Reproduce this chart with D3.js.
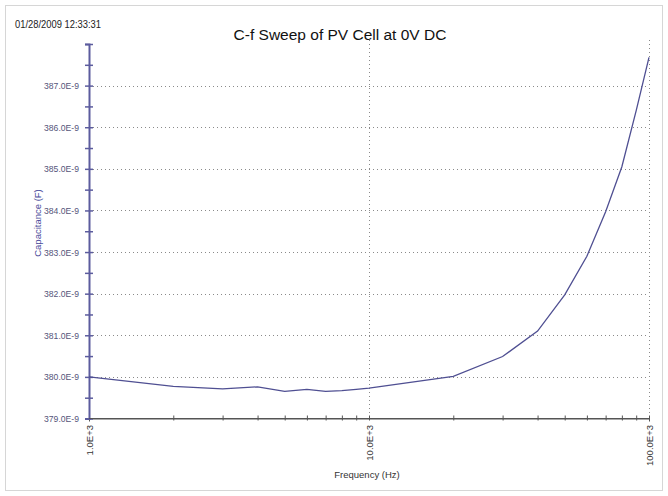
<!DOCTYPE html>
<html>
<head>
<meta charset="utf-8">
<script src="https://cdn.jsdelivr.net/npm/d3@7"></script>
<style>
  body { margin: 0; background: #fff; }
  svg { display: block; font-family: "Liberation Sans", Arial, sans-serif; }
</style>
</head>
<body>
<div id="chart"></div>
<script>
// values (Hz, farad)
const frequencies = [1e3, 2e3, 3e3, 4e3, 5e3, 6e3, 7e3, 8e3, 9e3, 10e3,
  20e3, 30e3, 40e3, 50e3, 60e3, 70e3, 80e3, 90e3, 100e3];
const capacitance = [380.00, 379.77, 379.71, 379.76, 379.65, 379.70, 379.65, 379.67, 379.70, 379.73,
  380.01, 380.49, 381.10, 381.97, 382.90, 383.97, 385.05, 386.40, 387.68].map(v => v * 1e-9);
const yMajorTicks = [379, 380, 381, 382, 383, 384, 385, 386, 387, 388].map(v => v * 1e-9);
const yMinorTicks = [379.5, 380.5, 381.5, 382.5, 383.5, 384.5, 385.5, 386.5, 387.5].map(v => v * 1e-9);
const xLabelTicks = [1e3, 10e3, 100e3];
const xMinorTicks = [2e3, 3e3, 4e3, 5e3, 6e3, 7e3, 8e3, 9e3, 20e3, 30e3, 40e3, 50e3, 60e3, 70e3, 80e3, 90e3];
const title = "C-f Sweep of PV Cell at 0V DC";
const stamp = "01/28/2009 12:33:31";

const width = 668;
const height = 496;
// plot box (window.top is taken, so prefix them)
const plotLeft = 89, plotRight = 649, plotTop = 44, plotBottom = 418.5;

const svg = d3.select("#chart").append("svg").attr("width", width).attr("height", height);

// light frame round the whole panel
svg.append("rect")
  .attr("x", 5.5).attr("y", 5.5).attr("width", 657).attr("height", 485)
  .attr("fill", "none").attr("stroke", "#d6d6d6");

const x = d3.scaleLog().domain([1e3, 100e3]).range([plotLeft, plotRight]);
const y = d3.scaleLinear().domain([379e-9, 388e-9]).range([plotBottom, plotTop]);

// grid
svg.append("g").selectAll("line")
  .data(yMajorTicks.slice(1, -1))
  .join("line")
  .attr("x1", plotLeft).attr("x2", plotRight)
  .attr("y1", d => Math.round(y(d)) + 0.5).attr("y2", d => Math.round(y(d)) + 0.5)
  .attr("stroke", "#8a8a8a").attr("stroke-dasharray", "1,3");
svg.append("g").selectAll("line")
  .data(xLabelTicks.slice(1))
  .join("line")
  .attr("x1", d => Math.round(x(d)) + 0.5).attr("x2", d => Math.round(x(d)) + 0.5)
  .attr("y1", 40).attr("y2", plotBottom)
  .attr("stroke", "#8a8a8a").attr("stroke-dasharray", "1,3");

// x axis
const fmtX = d => (d / 1e3).toFixed(1) + "E+3";
const xAxis = svg.append("g").attr("transform", `translate(0,${plotBottom})`)
  .call(d3.axisBottom(x).tickValues(xLabelTicks.concat(xMinorTicks))
    .tickFormat(d => xLabelTicks.includes(d) ? fmtX(d) : "")
    .tickSize(3).tickPadding(4));
xAxis.select(".domain").attr("stroke", "#555");
xAxis.selectAll(".tick line").attr("y1", -3).attr("y2", 2).attr("stroke", "#555");
xAxis.selectAll(".tick text")
  .attr("transform", "rotate(-90)")
  .attr("x", -6.5).attr("y", 0).attr("dy", "0.35em")
  .attr("text-anchor", "end")
  .attr("font-size", 9.5).attr("fill", "#333");

// y axis (top tick 388 has no label)
const fmtY = d => (d * 1e9).toFixed(1) + "E-9";
const yAxis = svg.append("g").attr("transform", `translate(${plotLeft},0)`)
  .call(d3.axisLeft(y).tickValues(yMajorTicks).tickFormat(fmtY).tickSize(4).tickPadding(6));
yAxis.select(".domain").attr("stroke", "#5c5c9e").attr("stroke-width", 2);
yAxis.selectAll(".tick line").attr("x1", 4).attr("x2", -4).attr("stroke", "#5c5c9e").attr("stroke-width", 1.5);
yAxis.selectAll(".tick text")
  .attr("font-size", 9.5).attr("fill", "#55557a")
  .attr("textLength", 35).attr("lengthAdjust", "spacingAndGlyphs")
  .filter((d, i) => i === yMajorTicks.length - 1).remove();
const yMinor = svg.append("g").attr("transform", `translate(${plotLeft},0)`)
  .call(d3.axisLeft(y).tickValues(yMinorTicks).tickFormat("").tickSize(4));
yMinor.select(".domain").remove();
yMinor.selectAll(".tick line").attr("x1", 4).attr("x2", -4).attr("stroke", "#5c5c9e").attr("stroke-width", 1.5);

// x axis line drawn over the y axis foot
svg.append("line")
  .attr("x1", plotLeft).attr("x2", plotRight).attr("y1", plotBottom).attr("y2", plotBottom)
  .attr("stroke", "#555");

// the sweep
const line = d3.line()
  .x((d, i) => x(frequencies[i]))
  .y(d => y(d));
svg.append("path")
  .attr("fill", "none")
  .attr("stroke", "#4f4f92")
  .attr("stroke-width", 1.3)
  .attr("d", line(capacitance));

// texts
svg.append("text")
  .attr("x", 15).attr("y", 28)
  .attr("font-size", 10).attr("fill", "#222")
  .attr("textLength", 86).attr("lengthAdjust", "spacingAndGlyphs")
  .text(stamp);
svg.append("text")
  .attr("x", 340).attr("y", 40)
  .attr("text-anchor", "middle")
  .attr("font-size", 15.5).attr("fill", "#111")
  .text(title);
svg.append("text")
  .attr("x", 367).attr("y", 478)
  .attr("text-anchor", "middle")
  .attr("font-size", 9.5).attr("fill", "#333")
  .text("Frequency (Hz)");
svg.append("text")
  .attr("transform", "translate(41,223) rotate(-90)")
  .attr("text-anchor", "middle")
  .attr("font-size", 9.5).attr("fill", "#4a4a9a")
  .text("Capacitance (F)");
</script>
</body>
</html>
